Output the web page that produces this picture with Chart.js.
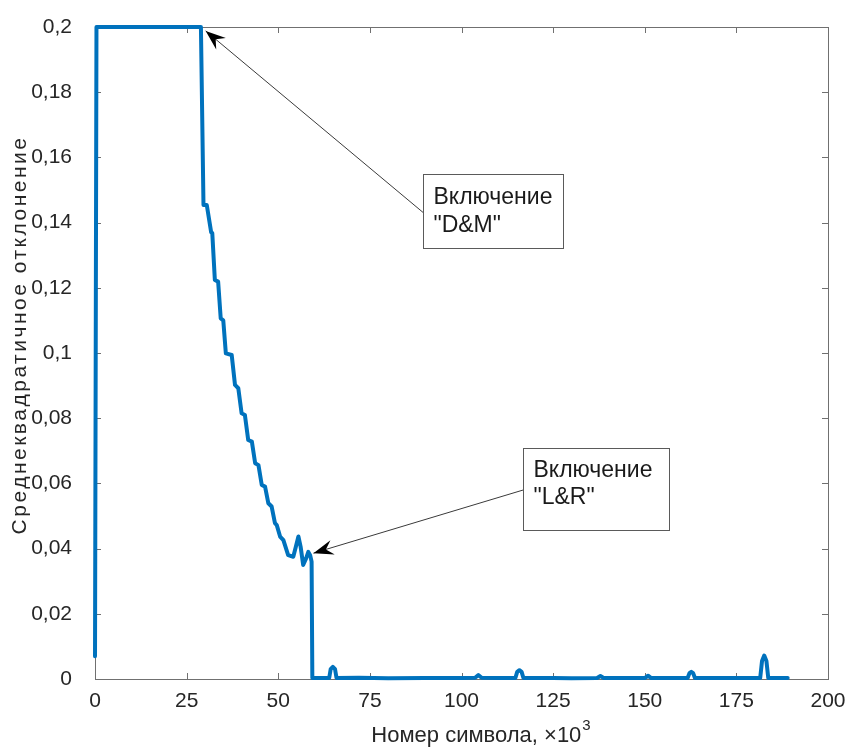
<!DOCTYPE html>
<html>
<head>
<meta charset="utf-8">
<script src="https://cdn.jsdelivr.net/npm/chart.js@4.4.1/dist/chart.umd.min.js"></script>
<style>
  html, body { margin: 0; padding: 0; background: #fff; }
  #wrap { width: 858px; height: 749px; position: relative; }
</style>
</head>
<body>
<div id="wrap"><canvas id="chart"></canvas></div>
<script>
// symbol number, x10^3
const SYMBOL_K = [
  0, 0.4, 28.9, 29.6, 30.5, 31.7, 32.0, 32.7, 33.6, 34.3, 35.0, 35.7, 37.3, 38.2,
  39.1, 40.0, 40.9, 41.8, 42.8, 43.7, 44.6, 45.5, 46.4, 47.3, 48.2, 49.1, 49.6,
  50.5, 51.4, 52.7, 54.1, 54.8, 55.5, 56.1, 56.8, 57.6, 58.2, 58.7, 59.1, 59.3,
  63.9, 64.3, 64.9, 65.5, 65.9, 72, 80, 90, 100, 103.7, 104.6, 105.5, 110,
  114.7, 115.2, 115.8, 116.4, 116.9, 125, 130, 137.0, 137.9, 138.8, 145,
  150.0, 150.9, 151.8, 161.7, 162.2, 162.7, 163.2, 163.7, 170, 181.5, 182.0,
  182.6, 183.2, 183.7, 189.0,
];
// RMS deviation
const RMS_DEV = [
  0.007, 0.2, 0.2, 0.1454, 0.1454, 0.137, 0.1368, 0.1224, 0.1219, 0.1106, 0.110, 0.0999, 0.0994, 0.0902,
  0.0892, 0.0815, 0.081, 0.0733, 0.0728, 0.0662, 0.0656, 0.0595, 0.059, 0.0539, 0.0529, 0.0478, 0.0472,
  0.0437, 0.0426, 0.038, 0.0375, 0.0406, 0.0437, 0.0406, 0.035, 0.037, 0.039, 0.038, 0.036, 0.0003,
  0.0003, 0.003, 0.0037, 0.003, 0.0003, 0.0004, 0.0002, 0.0003, 0.0003, 0.0004, 0.0012, 0.0004, 0.0003,
  0.0003, 0.0022, 0.0027, 0.0022, 0.0003, 0.0003, 0.0002, 0.0003, 0.0009, 0.0003, 0.0003,
  0.0003, 0.001, 0.0003, 0.0003, 0.0018, 0.0022, 0.0018, 0.0003, 0.0003, 0.0003, 0.0055,
  0.0072, 0.0055, 0.0003, 0.0003,
];

const X_TICKS = [0, 25, 50, 75, 100, 125, 150, 175, 200];
const Y_TICKS = [0, 0.02, 0.04, 0.06, 0.08, 0.1, 0.12, 0.14, 0.16, 0.18, 0.2];

const X_TITLE = ["Номер символа, ×10", "3"];
const Y_TITLE = "Среднеквадратичное отклонение";
const NOTE_LINES = [
  ["Включение", "\"D&M\""],
  ["Включение", "\"L&R\""],
];

const FONT = "'Liberation Sans', Arial, Helvetica, sans-serif";
const TEXT_COLOR = "#262626";
const AXIS_COLOR = "#707070";

// annotation geometry in data units (box + arrow tip)
const notes = [
  { box: [89.5, 0.1549, 127.7, 0.1322], from: 0.143, tip: [30.2, 0.1988], lines: NOTE_LINES[0], dy: [23, 51] },
  { box: [116.8, 0.0709, 156.6, 0.0457], from: 0.058, tip: [59.6, 0.0386], lines: NOTE_LINES[1], dy: [22, 49] },
];

function fmtComma(v) {
  const r = Math.round(v * 100) / 100;
  return String(r).replace(".", ",");
}

function drawArrowHead(ctx, tx, ty, fx, fy) {
  const ang = Math.atan2(ty - fy, tx - fx);
  const len = 20;
  const half = 7.5;
  const notch = 13;
  ctx.save();
  ctx.translate(tx, ty);
  ctx.rotate(ang);
  ctx.beginPath();
  ctx.moveTo(0, 0);
  ctx.lineTo(-len, -half);
  ctx.lineTo(-notch, 0);
  ctx.lineTo(-len, half);
  ctx.closePath();
  ctx.fillStyle = "#000";
  ctx.fill();
  ctx.restore();
}

const frameAndNotes = {
  id: "frameAndNotes",
  beforeDatasetsDraw(chart) {
    const { ctx, chartArea: a, scales } = chart;
    ctx.save();
    ctx.strokeStyle = AXIS_COLOR;
    ctx.lineWidth = 1;
    ctx.strokeRect(a.left + 0.5, a.top + 0.5, a.right - a.left, a.bottom - a.top);
    const tl = 6;
    ctx.beginPath();
    for (const v of X_TICKS) {
      const x = Math.round(scales.x.getPixelForValue(v)) + 0.5;
      ctx.moveTo(x, a.bottom);
      ctx.lineTo(x, a.bottom - tl);
      ctx.moveTo(x, a.top);
      ctx.lineTo(x, a.top + tl);
    }
    for (const v of Y_TICKS) {
      const y = Math.round(scales.y.getPixelForValue(v)) + 0.5;
      ctx.moveTo(a.left, y);
      ctx.lineTo(a.left + tl, y);
      ctx.moveTo(a.right, y);
      ctx.lineTo(a.right - tl, y);
    }
    ctx.stroke();
    ctx.restore();
  },
  afterDatasetsDraw(chart) {
    const { ctx, scales, chartArea: a } = chart;
    const sx = (v) => scales.x.getPixelForValue(v);
    const sy = (v) => scales.y.getPixelForValue(v);
    ctx.save();
    for (const n of notes) {
      const l = Math.round(sx(n.box[0])) + 0.5;
      const t = Math.round(sy(n.box[1])) + 0.5;
      const r = Math.round(sx(n.box[2])) + 0.5;
      const b = Math.round(sy(n.box[3])) + 0.5;
      const fy = sy(n.from);
      const tx = sx(n.tip[0]);
      const ty = sy(n.tip[1]);
      ctx.strokeStyle = "#3a3a3a";
      ctx.lineWidth = 1;
      ctx.beginPath();
      ctx.moveTo(l, fy);
      ctx.lineTo(tx, ty);
      ctx.stroke();
      drawArrowHead(ctx, tx, ty, l, fy);
      ctx.fillStyle = "#fff";
      ctx.fillRect(l, t, r - l, b - t);
      ctx.strokeStyle = "#5a5a5a";
      ctx.strokeRect(l, t, r - l, b - t);
      ctx.fillStyle = "#1a1a1a";
      ctx.font = "23px " + FONT;
      ctx.textBaseline = "middle";
      ctx.textAlign = "left";
      n.lines.forEach((s, i) => ctx.fillText(s, l + 10, t + n.dy[i]));
    }

    // axis titles
    ctx.fillStyle = TEXT_COLOR;
    ctx.textBaseline = "middle";
    ctx.font = "22px " + FONT;
    const main = X_TITLE[0];
    const wMain = ctx.measureText(main).width;
    ctx.font = "15px " + FONT;
    const wSup = ctx.measureText(X_TITLE[1]).width;
    const xc = (a.left + a.right) / 2 + 19;
    const x0 = xc - (wMain + wSup) / 2;
    ctx.textAlign = "left";
    ctx.font = "22px " + FONT;
    ctx.fillText(main, x0, 736);
    ctx.font = "15px " + FONT;
    ctx.fillText(X_TITLE[1], x0 + wMain + 1, 726);

    ctx.save();
    ctx.translate(20, (a.top + a.bottom) / 2 - 18);
    ctx.rotate(-Math.PI / 2);
    ctx.textAlign = "center";
    ctx.font = "21px " + FONT;
    ctx.letterSpacing = "2.5px";
    ctx.fillText(Y_TITLE, 0, 0);
    ctx.restore();
    ctx.restore();
  },
};

function initChart() {
  const points = SYMBOL_K.map((x, i) => ({ x, y: RMS_DEV[i] }));
  new Chart(document.getElementById("chart"), {
    type: "line",
    data: {
      datasets: [{
        data: points,
        borderColor: "#0072BD",
        borderWidth: 4,
        pointRadius: 0,
        tension: 0,
        borderJoinStyle: "round",
        borderCapStyle: "round",
        clip: false,
      }],
    },
    options: {
      responsive: true,
      maintainAspectRatio: false,
      animation: false,
      events: [],
      layout: { padding: { top: 27, right: 30, left: 0, bottom: 0 } },
      plugins: { legend: { display: false }, tooltip: { enabled: false } },
      scales: {
        x: {
          type: "linear",
          min: 0,
          max: 200,
          afterBuildTicks: (s) => { s.ticks = X_TICKS.map((value) => ({ value })); },
          afterFit: (s) => { s.height = 70; },
          grid: { display: false, drawTicks: false },
          border: { display: false },
          ticks: {
            padding: 10,
            maxRotation: 0,
            color: TEXT_COLOR,
            font: { family: FONT, size: 21 },
            callback: (v) => String(v),
          },
        },
        y: {
          min: 0,
          max: 0.2,
          afterBuildTicks: (s) => { s.ticks = Y_TICKS.map((value) => ({ value })); },
          afterFit: (s) => {
            s.width = 95;
            s.paddingTop = 12;
            s.paddingBottom = 12;
          },
          grid: { display: false, drawTicks: false },
          border: { display: false },
          ticks: {
            padding: 23,
            color: TEXT_COLOR,
            font: { family: FONT, size: 21 },
            callback: fmtComma,
          },
        },
      },
    },
    plugins: [frameAndNotes],
  });
}

document.addEventListener("DOMContentLoaded", initChart);
</script>
</body>
</html>
